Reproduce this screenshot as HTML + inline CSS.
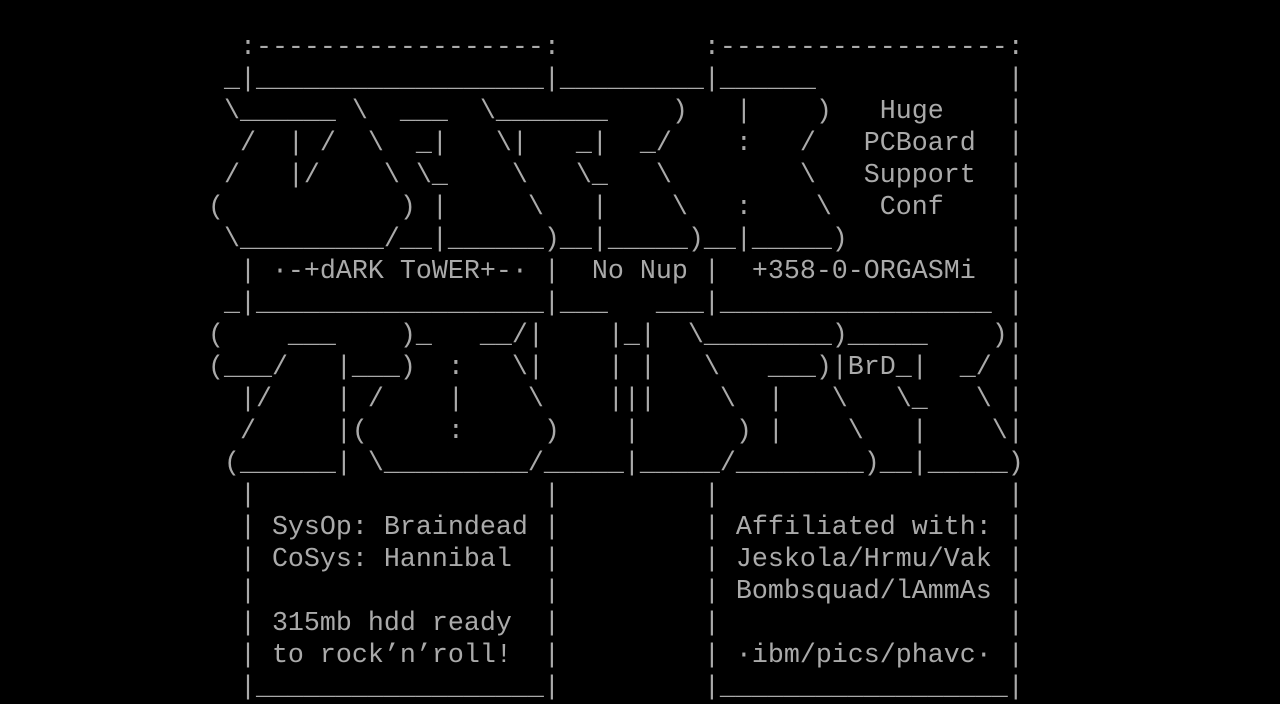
<!DOCTYPE html>
<html><head><meta charset="utf-8"><style>
html,body{margin:0;padding:0;background:#000;width:1280px;height:704px;overflow:hidden}
pre{margin:0;padding:32px 0 0 0;font-family:"Liberation Mono","DejaVu Sans Mono",monospace;font-size:26.667px;line-height:32px;color:#aaaaaa;white-space:pre;letter-spacing:0}
</style></head><body><pre>
               :------------------:         :------------------:
              _|__________________|_________|______            |
              \______ \  ___  \_______    )   |    )   Huge    |
               /  | /  \  _|   \|   _|  _/    :   /   PCBoard  |
              /   |/    \ \_    \   \_   \        \   Support  |
             (           ) |     \   |    \   :    \   Conf    |
              \_________/__|______)__|_____)__|_____)          |
               | ·-+dARK ToWER+-· |  No Nup |  +358-0-ORGASMi  |
              _|__________________|___   ___|_________________ |
             (    ___    )_   __/|    |_|  \________)_____    )|
             (___/   |___)  :   \|    | |   \   ___)|BrD_|  _/ |
               |/    | /    |    \    |||    \  |   \   \_   \ |
               /     |(     :     )    |      ) |    \   |    \|
              (______| \_________/_____|_____/________)__|_____)
               |                  |         |                  |
               | SysOp: Braindead |         | Affiliated with: |
               | CoSys: Hannibal  |         | Jeskola/Hrmu/Vak |
               |                  |         | Bombsquad/lAmmAs |
               | 315mb hdd ready  |         |                  |
               | to rock’n’roll!  |         | ·ibm/pics/phavc· |
               |__________________|         |__________________|
</pre></body></html>
